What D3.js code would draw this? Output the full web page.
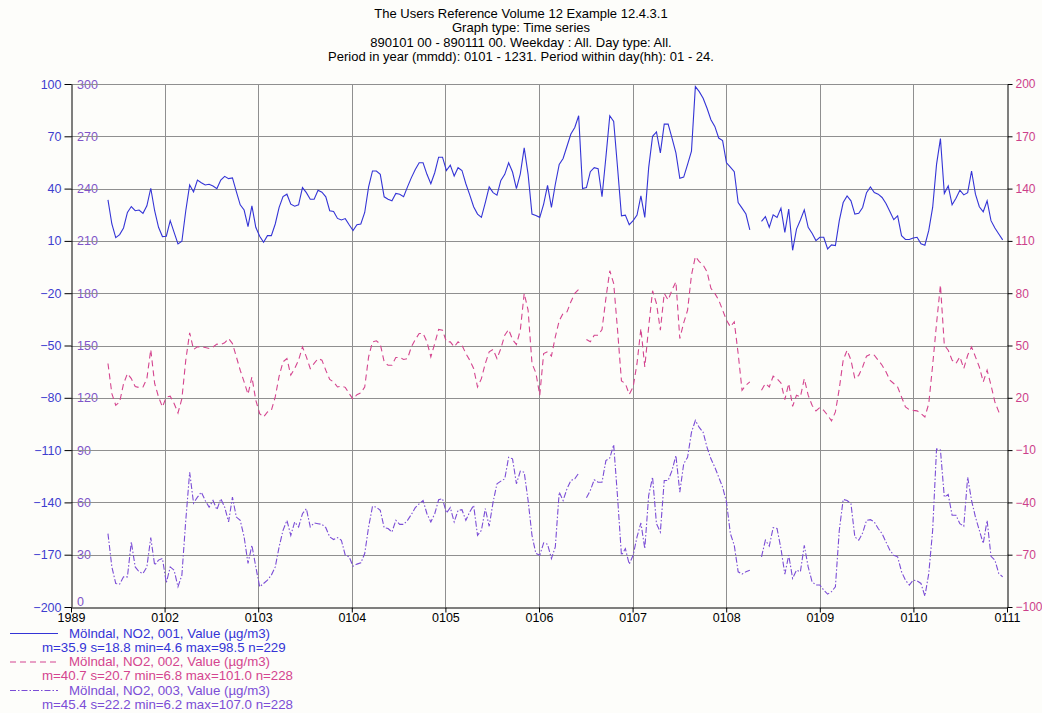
<!DOCTYPE html>
<html>
<head>
<meta charset="utf-8">
<script src="https://cdn.jsdelivr.net/npm/d3@7"></script>
<style>
  body { margin: 0; background: #fdfdfa; }
  svg { display: block; }
  text { font-family: Arial, "Liberation Sans", sans-serif; }
</style>
</head>
<body>
<svg id="chart" width="1042" height="713"></svg>
<script>
// ---- text ----
const titleLines = [
  "The Users Reference Volume 12 Example 12.4.3.1",
  "Graph type: Time series",
  "890101 00 - 890111 00. Weekday : All. Day type: All.",
  "Period in year (mmdd): 0101 - 1231. Period within day(hh): 01 - 24."
];
const xTickLabels = ["1989", "0102", "0103", "0104", "0105", "0106", "0107", "0108", "0109", "0110", "0111"];
const leftOuterTicks = [-200, -170, -140, -110, -80, -50, -20, 10, 40, 70, 100];
const leftInnerTicks = [0, 30, 60, 90, 120, 150, 180, 210, 240, 270, 300];
const rightTicks = [-100, -70, -40, -10, 20, 50, 80, 110, 140, 170, 200];

const seriesNames = [
  "Mölndal, NO2, 001, Value (µg/m3)",
  "Mölndal, NO2, 002, Value (µg/m3)",
  "Mölndal, NO2, 003, Value (µg/m3)"
];
const seriesStats = [
  "m=35.9 s=18.8 min=4.6 max=98.5 n=229",
  "m=40.7 s=20.7 min=6.8 max=101.0 n=228",
  "m=45.4 s=22.2 min=6.2 max=107.0 n=228"
];

// ---- samples: position of the first sample and spacing, in x-axis divisions ----
const firstSample = 0.395;
const sampleStep = 0.04156;

// station 001 (left outer axis), null = missing
const no2Site001 = [
  33.5, 19.7, 11.9, 13.6, 17.4, 26.3, 29.7, 27.3, 27.7, 25.8,
  30.1, 40.2, 27.3, 17.8, 12.5, 12.7, 21.6, 14.9, 8.3, 9.8,
  27.3, 42.1, 38.1, 44.9, 43.4, 42.1, 42.5, 41.5, 40.0, 44.9,
  47.0, 45.7, 46.1, 38.3, 30.7, 27.7, 18.2, 30.1, 17.8, 12.7,
  9.2, 13.0, 13.0, 19.7, 29.2, 35.4, 36.8, 31.1, 29.9, 30.7,
  40.6, 37.7, 33.9, 33.9, 39.1, 37.9, 35.3, 27.3, 26.9, 22.9,
  22.0, 22.8, 19.3, 16.0, 19.3, 19.7, 26.3, 41.0, 50.1, 50.1,
  48.2, 35.3, 33.9, 33.0, 37.2, 36.8, 35.4, 41.0, 46.3, 51.0,
  54.8, 54.8, 48.2, 42.8, 49.1, 58.0, 58.0, 50.4, 53.5, 47.2,
  52.0, 50.4, 42.8, 36.4, 29.6, 25.4, 23.5, 32.0, 41.0, 37.7,
  36.2, 44.7, 48.2, 54.8, 49.5, 40.0, 48.5, 63.4, 48.2, 25.4,
  24.6, 23.5, 31.1, 41.9, 29.2, 42.5, 53.9, 57.3, 64.3, 71.3,
  75.1, 81.8, 40.0, 40.6, 49.7, 52.0, 51.4, 35.3, 58.0, 81.8,
  78.5, 52.0, 24.4, 24.8, 19.3, 21.6, 24.8, 35.8, 23.5, 52.0,
  70.0, 72.5, 60.5, 77.0, 77.0, 69.0, 60.5, 45.9, 46.6, 53.9,
  61.5, 98.5, 95.6, 91.8, 86.1, 79.5, 75.7, 69.0, 67.5, 54.8,
  52.3, 49.7, 32.0, 28.8, 25.4, 16.3, null, null, 21.2, 23.9,
  17.8, 25.0, 23.5, 28.8, 14.9, 28.2, 4.6, 16.8, 22.0, 27.8,
  17.8, 14.4, 10.2, 12.1, 12.1, 5.4, 7.7, 7.3, 21.6, 32.0,
  35.8, 33.0, 25.4, 25.8, 29.2, 37.7, 41.0, 37.7, 36.8, 34.9,
  31.5, 26.9, 22.2, 24.4, 13.0, 10.8, 10.8, 11.7, 12.1, 8.3,
  7.5, 16.0, 29.2, 53.9, 68.7, 37.2, 41.5, 30.7, 34.5, 39.1,
  36.4, 37.7, 50.1, 36.8, 29.6, 26.7, 33.0, 21.6, 17.4, 14.0,
  10.6
];

// station 002 (right axis)
const no2Site002 = [
  39.7, 22.4, 15.7, 17.6, 28.0, 33.9, 31.0, 26.5, 25.9, 26.2,
  31.0, 47.7, 28.2, 20.5, 14.8, 20.5, 20.9, 16.7, 11.3, 19.5,
  41.6, 57.3, 47.7, 49.2, 49.2, 48.9, 48.3, 49.2, 50.8, 50.6,
  51.5, 54.0, 51.1, 43.5, 35.8, 29.1, 22.0, 32.0, 18.6, 10.9,
  9.0, 11.9, 12.8, 20.5, 32.4, 40.6, 42.5, 33.0, 36.8, 41.6,
  49.2, 43.5, 36.8, 39.7, 42.5, 41.6, 35.8, 30.5, 29.1, 26.2,
  26.7, 26.0, 22.4, 19.2, 21.8, 22.8, 26.2, 43.5, 52.1, 52.7,
  50.8, 40.6, 38.7, 38.7, 43.1, 43.1, 42.0, 42.5, 49.2, 53.4,
  56.9, 56.9, 52.1, 43.5, 51.1, 59.2, 58.8, 52.1, 52.1, 49.2,
  52.1, 50.2, 45.4, 41.6, 36.8, 26.2, 31.0, 39.7, 46.4, 47.7,
  42.5, 48.3, 55.9, 59.2, 53.4, 50.6, 58.8, 79.9, 70.3, 39.7,
  34.3, 21.5, 45.4, 46.4, 43.9, 55.0, 64.2, 68.4, 69.3, 75.1,
  79.9, 82.2, null, 53.4, 52.1, 55.9, 55.9, 59.2, 77.0, 92.9,
  85.6, 58.8, 29.7, 28.2, 22.0, 26.2, 39.7, 59.8, 37.7, 60.7,
  81.4, 74.1, 58.8, 79.9, 76.1, 81.8, 86.6, 54.0, 63.0, 70.3,
  90.4, 101.0, 98.1, 96.2, 92.3, 82.8, 79.9, 76.1, 70.3, 64.6,
  60.7, 63.6, 45.4, 24.3, 27.2, 29.1, null, null, 24.3, 28.2,
  26.2, 32.4, 31.0, 28.5, 19.0, 28.2, 15.1, 21.5, 20.5, 31.0,
  21.5, 15.7, 12.5, 14.4, 12.8, 10.0, 6.8, 11.9, 25.3, 41.6,
  47.3, 41.6, 31.0, 32.9, 37.7, 43.9, 45.0, 44.4, 41.6, 38.7,
  34.9, 30.1, 28.2, 26.2, 20.5, 14.8, 13.2, 12.8, 12.5, 10.9,
  9.0, 16.7, 38.7, 62.6, 84.7, 50.2, 47.3, 41.6, 39.7, 43.5,
  36.8, 44.4, 49.2, 43.5, 37.7, 29.1, 35.8, 27.2, 17.6, 11.9,
  10.9
];

// station 003 (left inner axis)
const no2Site003 = [
  42.1, 23.0, 13.5, 13.1, 17.3, 17.3, 37.3, 23.0, 20.2, 19.2,
  23.0, 39.8, 24.0, 26.9, 27.8, 13.9, 23.0, 21.1, 11.6, 18.3,
  49.7, 77.3, 59.6, 63.0, 65.9, 61.1, 57.3, 61.1, 55.8, 62.1,
  57.3, 48.8, 63.0, 51.6, 49.7, 40.2, 25.0, 35.4, 23.0, 11.6,
  13.5, 15.4, 18.3, 23.0, 34.5, 44.0, 49.7, 41.1, 48.8, 45.9,
  53.5, 56.4, 45.9, 48.2, 47.8, 47.4, 45.5, 40.2, 38.7, 39.8,
  38.3, 29.7, 28.8, 23.4, 24.6, 25.3, 30.7, 45.9, 57.7, 57.3,
  55.4, 45.5, 45.0, 43.0, 49.7, 47.4, 47.4, 49.7, 53.1, 57.0,
  59.2, 61.1, 53.5, 48.8, 53.5, 61.5, 62.1, 53.9, 57.0, 48.8,
  55.4, 55.8, 49.7, 54.5, 58.3, 41.1, 44.0, 56.4, 46.3, 60.2,
  70.7, 72.2, 73.5, 85.9, 85.0, 70.7, 77.9, 77.3, 61.1, 41.1,
  30.7, 29.7, 36.8, 36.0, 27.8, 34.5, 65.9, 61.1, 67.8, 72.6,
  73.5, 76.8, null, 62.7, 66.9, 73.0, 71.6, 71.6, 84.0, 85.5,
  93.1, 63.0, 29.7, 33.5, 24.6, 29.7, 40.2, 48.2, 33.5, 64.0,
  74.5, 47.8, 43.0, 72.6, 72.6, 78.3, 86.9, 65.9, 82.1, 85.9,
  100.2, 107.0, 103.0, 100.2, 91.6, 85.0, 80.2, 74.5, 68.8, 60.2,
  42.1, 35.4, 20.2, 18.9, 20.2, 21.1, null, null, 28.8, 38.3,
  34.9, 45.5, 45.0, 33.5, 18.9, 29.7, 16.4, 21.1, 20.2, 35.4,
  23.0, 14.5, 12.6, 12.6, 9.7, 7.4, 8.8, 11.6, 44.0, 61.7,
  61.1, 59.2, 40.2, 38.3, 42.5, 49.7, 50.1, 48.8, 45.0, 42.1,
  37.3, 32.6, 29.7, 28.8, 20.2, 15.4, 12.6, 15.4, 15.0, 13.5,
  6.2, 19.2, 44.0, 90.7, 90.1, 63.0, 64.6, 52.6, 52.6, 47.8,
  46.3, 74.5, 61.1, 51.6, 44.0, 36.4, 49.7, 29.1, 26.9, 19.2,
  17.3
];

// ---- layout ----
const W = 1042, H = 713;
const plot = { left: 71, right: 1007, top: 84, bottom: 607 };

const colors = {
  s1: "#3434d6", s2: "#d4458f", s3: "#7b4dd6",
  outerLabel: "#3e3ecf", innerLabel: "#8055c8", rightLabel: "#cc3f8a",
  grid: "#8f8f8f", axis: "#000000"
};

const svg = d3.select("#chart");
svg.append("rect").attr("width", W).attr("height", H).attr("fill", "#fdfdfa");

const x = d3.scaleLinear().domain([0, 10]).range([plot.left, plot.right]);
const yOuter = d3.scaleLinear().domain([-200, 100]).range([plot.bottom, plot.top]);
const yInner = d3.scaleLinear().domain([0, 300]).range([plot.bottom, plot.top]);
const yRight = d3.scaleLinear().domain([-100, 200]).range([plot.bottom, plot.top]);

// ---- title ----
svg.append("g").selectAll("text").data(titleLines).join("text")
  .attr("x", W / 2)
  .attr("y", (d, i) => 17.5 + i * 14.6)
  .attr("text-anchor", "middle")
  .attr("font-size", 13)
  .attr("fill", "#000")
  .text(d => d);

// ---- inner left labels (drawn under the grid) ----
const innerAxis = svg.append("g")
  .attr("transform", `translate(${plot.left},0)`)
  .call(d3.axisRight(yInner).tickValues(leftInnerTicks).tickSize(0).tickPadding(6));
innerAxis.select(".domain").remove();
innerAxis.selectAll("text")
  .attr("font-size", 12.5)
  .attr("font-family", "Arial, 'Liberation Sans', sans-serif")
  .attr("fill", colors.innerLabel)
  .attr("dy", d => d === 0 ? "-0.1em" : "0.32em");

// ---- grid ----
const grid = svg.append("g").attr("stroke", colors.grid).attr("stroke-width", 1);
grid.selectAll("line.h").data(leftOuterTicks.slice(1)).join("line")
  .attr("class", "h")
  .attr("x1", plot.left).attr("x2", plot.right)
  .attr("y1", d => Math.round(yOuter(d)) + 0.5)
  .attr("y2", d => Math.round(yOuter(d)) + 0.5);
grid.selectAll("line.v").data(d3.range(1, 10)).join("line")
  .attr("class", "v")
  .attr("y1", plot.top).attr("y2", plot.bottom)
  .attr("x1", d => Math.round(x(d)) + 0.5)
  .attr("x2", d => Math.round(x(d)) + 0.5);

// ---- axes ----
function styleAxis(g, color, size) {
  g.select(".domain").attr("stroke", colors.axis);
  g.selectAll(".tick line").attr("stroke", colors.axis);
  g.selectAll("text")
    .attr("font-size", size)
    .attr("font-family", "Arial, 'Liberation Sans', sans-serif")
    .attr("fill", color);
}

const outerAxis = svg.append("g")
  .attr("transform", `translate(${plot.left + 0.5},0)`)
  .call(d3.axisLeft(yOuter).tickValues(leftOuterTicks).tickSize(7).tickSizeOuter(0).tickPadding(3));
styleAxis(outerAxis, colors.outerLabel, 12.5);

const rightAxis = svg.append("g")
  .attr("transform", `translate(${plot.right + 0.5},0)`)
  .call(d3.axisRight(yRight).tickValues(rightTicks).tickSize(5).tickSizeOuter(0).tickPadding(3));
styleAxis(rightAxis, colors.rightLabel, 12);

const xAxis = svg.append("g")
  .attr("transform", `translate(0,${plot.bottom + 0.5})`)
  .call(d3.axisBottom(x).tickValues(d3.range(11)).tickFormat(i => xTickLabels[i])
    .tickSize(5).tickSizeOuter(0).tickPadding(1));
styleAxis(xAxis, "#000", 12.5);

// ---- series ----
const series = [
  { values: no2Site001, y: yOuter, color: colors.s1, dash: null },
  { values: no2Site002, y: yRight, color: colors.s2, dash: "6,4" },
  { values: no2Site003, y: yInner, color: colors.s3, dash: "6,2,1.5,2" }
];

series.forEach(s => {
  const line = d3.line()
    .defined(d => d != null)
    .x((d, i) => x(firstSample + i * sampleStep))
    .y(d => s.y(d));
  svg.append("path")
    .datum(s.values)
    .attr("fill", "none")
    .attr("stroke", s.color)
    .attr("stroke-width", 1.1)
    .attr("stroke-dasharray", s.dash)
    .attr("d", line);
});

// ---- legend ----
const legend = svg.append("g");
series.forEach((s, i) => {
  const yMid = 633 + i * 28.5;
  legend.append("line")
    .attr("x1", 10).attr("x2", 58)
    .attr("y1", yMid + 0.5).attr("y2", yMid + 0.5)
    .attr("stroke", s.color).attr("stroke-width", 1.1)
    .attr("stroke-dasharray", s.dash);
  legend.append("text")
    .attr("x", 69).attr("y", yMid + 4.8)
    .attr("font-size", 13.3).attr("fill", s.color)
    .text(seriesNames[i]);
  legend.append("text")
    .attr("x", 42).attr("y", yMid + 18.8)
    .attr("font-size", 13.3).attr("fill", s.color)
    .text(seriesStats[i]);
});
</script>
</body>
</html>
